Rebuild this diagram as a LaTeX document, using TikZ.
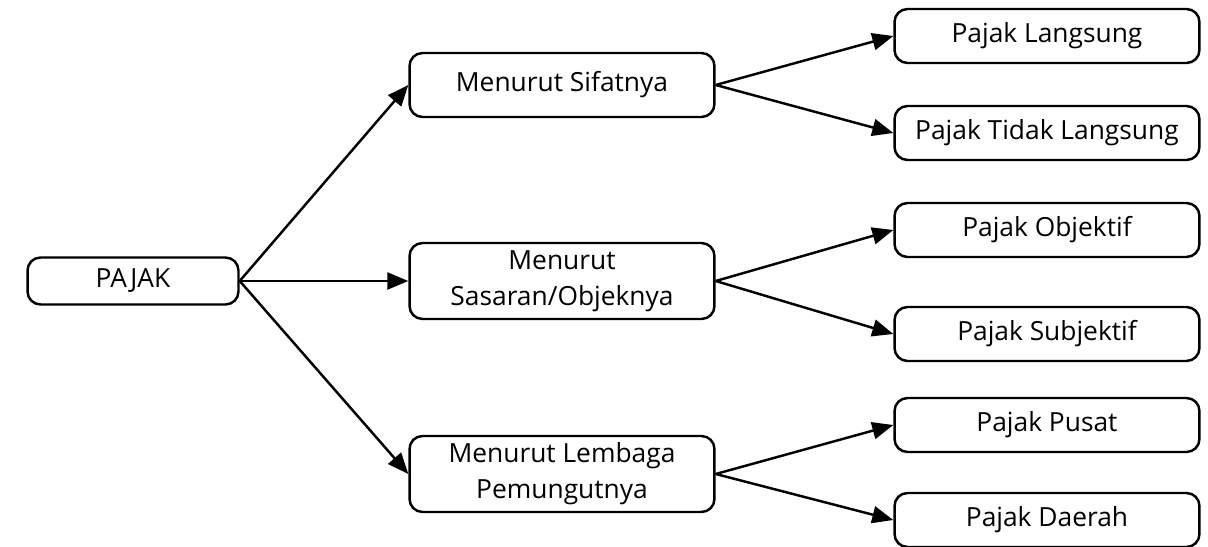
\documentclass[tikz,border=0pt]{standalone}
\usepackage{fontspec}
\setmainfont{Open Sans}
\usetikzlibrary{arrows.meta}
\begin{document}
\begin{tikzpicture}
[   x=0.02cm,y=-0.02cm,
    tbox/.style={draw=black,line width=1.4pt,rounded corners=0.26cm,align=center,
                 minimum width=6.1cm,inner sep=0pt,font=\fontsize{15}{20.5}\selectfont},
    arr/.style={line width=1.4pt,-{Triangle[length=0.42cm,width=0.34cm]}},
]
    \useasboundingbox (0,0) rectangle (1208,547);
    \node[tbox,minimum width=4.22cm,minimum height=0.94cm] (pajak) at (133,281) {PAJAK};
    \foreach \i/\y/\h/\t in {1/85/1.28cm/{Menurut Sifatnya},
                             2/281/1.52cm/{Menurut\\Sasaran/Objeknya},
                             3/474/1.52cm/{Menurut Lembaga\\Pemungutnya}}
    {   \node[tbox,minimum height=\h] (m-\i) at (562,\y) {\t};
    }
    \foreach \j/\y/\t in {1/36/Pajak Langsung,2/133/Pajak Tidak Langsung,
                          3/230/Pajak Objektif,4/334/Pajak Subjektif,
                          5/425/Pajak Pusat,6/520/Pajak Daerah}
    {   \node[tbox,minimum height=1.08cm] (r-\j) at (1047,\y) {\t};
    }
    \foreach \i/\a/\b in {1/1/2,2/3/4,3/5/6}
    {   \draw[arr] (pajak.east) -- (m-\i.west);
        \draw[arr] (m-\i.east) -- (r-\a.west);
        \draw[arr] (m-\i.east) -- (r-\b.west);
    }
\end{tikzpicture}
\end{document}
